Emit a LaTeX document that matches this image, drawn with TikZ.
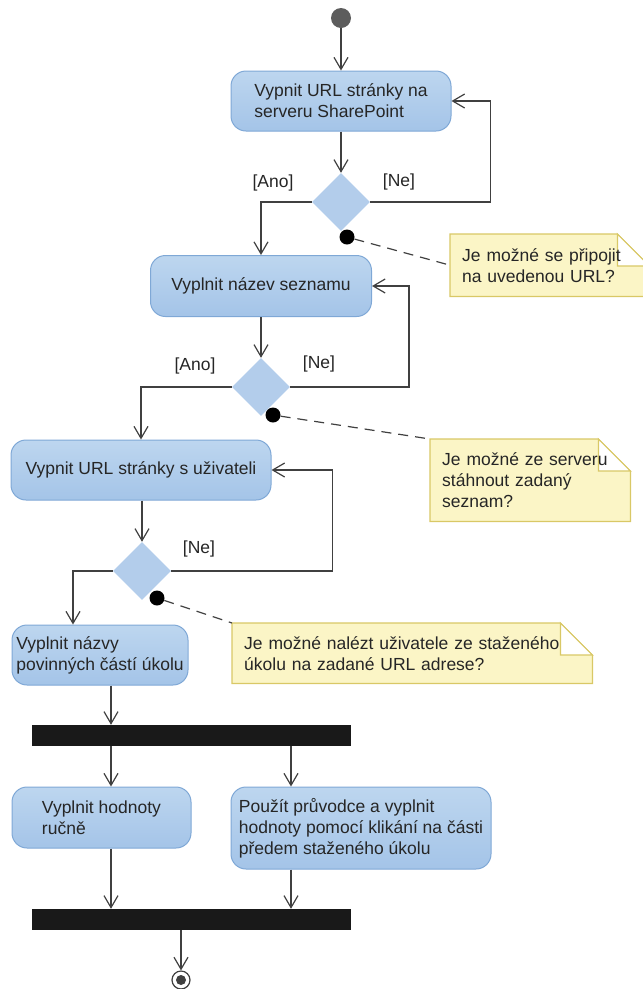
\documentclass[tikz,border=0pt]{standalone}
\usepackage{fontspec}
\setmainfont{Liberation Sans}
\usetikzlibrary{shapes.geometric}
\usetikzlibrary{arrows.meta}
\usetikzlibrary{calc}
\usetikzlibrary{backgrounds}

\definecolor{boxtop}{HTML}{BDD6EF}
\definecolor{boxbot}{HTML}{A4C4E8}
\definecolor{boxline}{HTML}{7FA8D6}
\definecolor{decfill}{HTML}{B3CDEB}
\definecolor{notefill}{HTML}{FBF5C6}
\definecolor{noteline}{HTML}{D9C866}
\definecolor{wire}{HTML}{404040}
\definecolor{ink}{HTML}{262626}

\begin{document}
\begin{tikzpicture}[x=1pt, y=-1pt,
  font=\fontsize{17.5}{21}\selectfont, text=ink,
  action/.style={rectangle, rounded corners=15, draw=boxline, line width=1, top color=boxtop, bottom color=boxbot, align=left, inner sep=4},
  decision/.style={diamond, fill=decfill, minimum width=58, minimum height=58, inner sep=0},
  bar/.style={fill=black!90, minimum width=319, minimum height=21, inner sep=0},
  pin/.style={circle, fill=black, inner sep=0, minimum size=15},
  note/.style={anchor=north west, align=left, inner xsep=12, inner ysep=0},
  guard/.style={inner sep=0},
  flow/.style={draw=wire, line width=1.2, -{Straight Barb[length=12pt, width=14pt]}},
  link/.style={draw=wire, line width=1.2, dash pattern=on 10pt off 7pt},
  notebox/.style={draw=noteline, line width=1.2, fill=notefill}]
\clip (0,0) rectangle (643,989);
% activities and decisions
\node[circle, fill=wire!85, minimum size=20, inner sep=0] (start) at (341,18) {};
\node[action, minimum width=220, minimum height=60] (a1) at (341,101) {Vypnit URL stránky na\\serveru SharePoint};
\node[decision] (d1) at (341,202) {};
\node[pin] (p1) at (347,237) {};
\node[action, minimum width=221, minimum height=61] (a2) at (261,286) {Vyplnit název seznamu};
\node[decision] (d2) at (261,387) {};
\node[pin] (p2) at (273,415) {};
\node[action, minimum width=260, minimum height=60] (a3) at (141,470) {Vypnit URL stránky s uživateli};
\node[decision] (d3) at (142,571) {};
\node[pin] (p3) at (157,598) {};
\node[action, minimum width=176, minimum height=60] (a4) at (100,655) {Vyplnit názvy\\povinných částí úkolu};
\node[bar] (b1) at (191.5,735.5) {};
\node[action, minimum width=179, minimum height=61] (a5) at (101.5,817.5) {Vyplnit hodnoty\\ručně};
\node[action, minimum width=260, minimum height=82] (a6) at (361,828) {Použít průvodce a vyplnit\\hodnoty pomocí klikání na části\\předem staženého úkolu};
\node[bar] (b2) at (191.5,919.5) {};
\node[circle, draw=wire, line width=1.2, fill=white, minimum size=18, inner sep=0] (stop) at (181,980) {};
\fill[wire] (stop) circle (5);
% guards
\node[guard] (g1a) at (273,183) {[Ano]};
\node[guard] (g1n) at (399,182) {[Ne]};
\node[guard] (g2a) at (195,366) {[Ano]};
\node[guard] (g2n) at (319,364) {[Ne]};
\node[guard] (g3n) at (199,549) {[Ne]};
% notes
\node[note, text width=175, minimum height=62] (n1) at (450,234) {Je možné se připojit\\na uvedenou URL?};
\node[note, text width=176, minimum height=82] (n2) at (430,439) {Je možné ze serveru\\stáhnout zadaný\\seznam?};
\node[note, text width=336, minimum height=60] (n3) at (232,623) {Je možné nalézt uživatele ze staženého\\úkolu na zadané URL adrese?};
\begin{scope}[on background layer]
\foreach \n in {n1,n2,n3} {
  \draw[notebox] (\n.north west) -- ($(\n.north east)+(-32,0)$) -- ($(\n.north east)+(0,32)$) -- (\n.south east) -- (\n.south west) -- cycle;
  \draw[notebox, fill=white] ($(\n.north east)+(-32,0)$) -- ($(\n.north east)+(-32,32)$) -- ($(\n.north east)+(0,32)$) -- cycle;
}
\end{scope}
% flows
\coordinate (xl) at (111,0);
\coordinate (xr) at (291,0);
\coordinate (xm) at (181,0);
\draw[flow] (start) -- (a1);
\draw[flow] (a1) -- (d1);
\draw[flow] (d1.west) -| (a2.north);
\draw[flow] (d1.east) -| ($(a1.east)+(39,0)$) -- (a1.east);
\draw[flow] (a2) -- (d2);
\draw[flow] (d2.west) -| (a3.north);
\draw[flow] (d2.east) -| ($(a2.east)+(37,0)$) -- (a2.east);
\draw[flow] (a3.south -| d3.north) -- (d3.north);
\draw[flow] (d3.west) -| ($(a4.north)+(-27,0)$);
\draw[flow] (d3.east) -| ($(a3.east)+(61,0)$) -- (a3.east);
\draw[flow] (a4.south -| xl) -- (b1.north -| xl);
\draw[flow] (b1.south -| xl) -- (a5.north -| xl);
\draw[flow] (b1.south -| xr) -- (a6.north -| xr);
\draw[flow] (a5.south -| xl) -- (b2.north -| xl);
\draw[flow] (a6.south -| xr) -- (b2.north -| xr);
\draw[flow] (b2.south -| xm) -- (stop);
% note links
\draw[link] (p1) -- (n1.west);
\draw[link] (p2) -- (n2.north west);
\draw[link] (p3) -- (n3.north west);
\end{tikzpicture}
\end{document}
